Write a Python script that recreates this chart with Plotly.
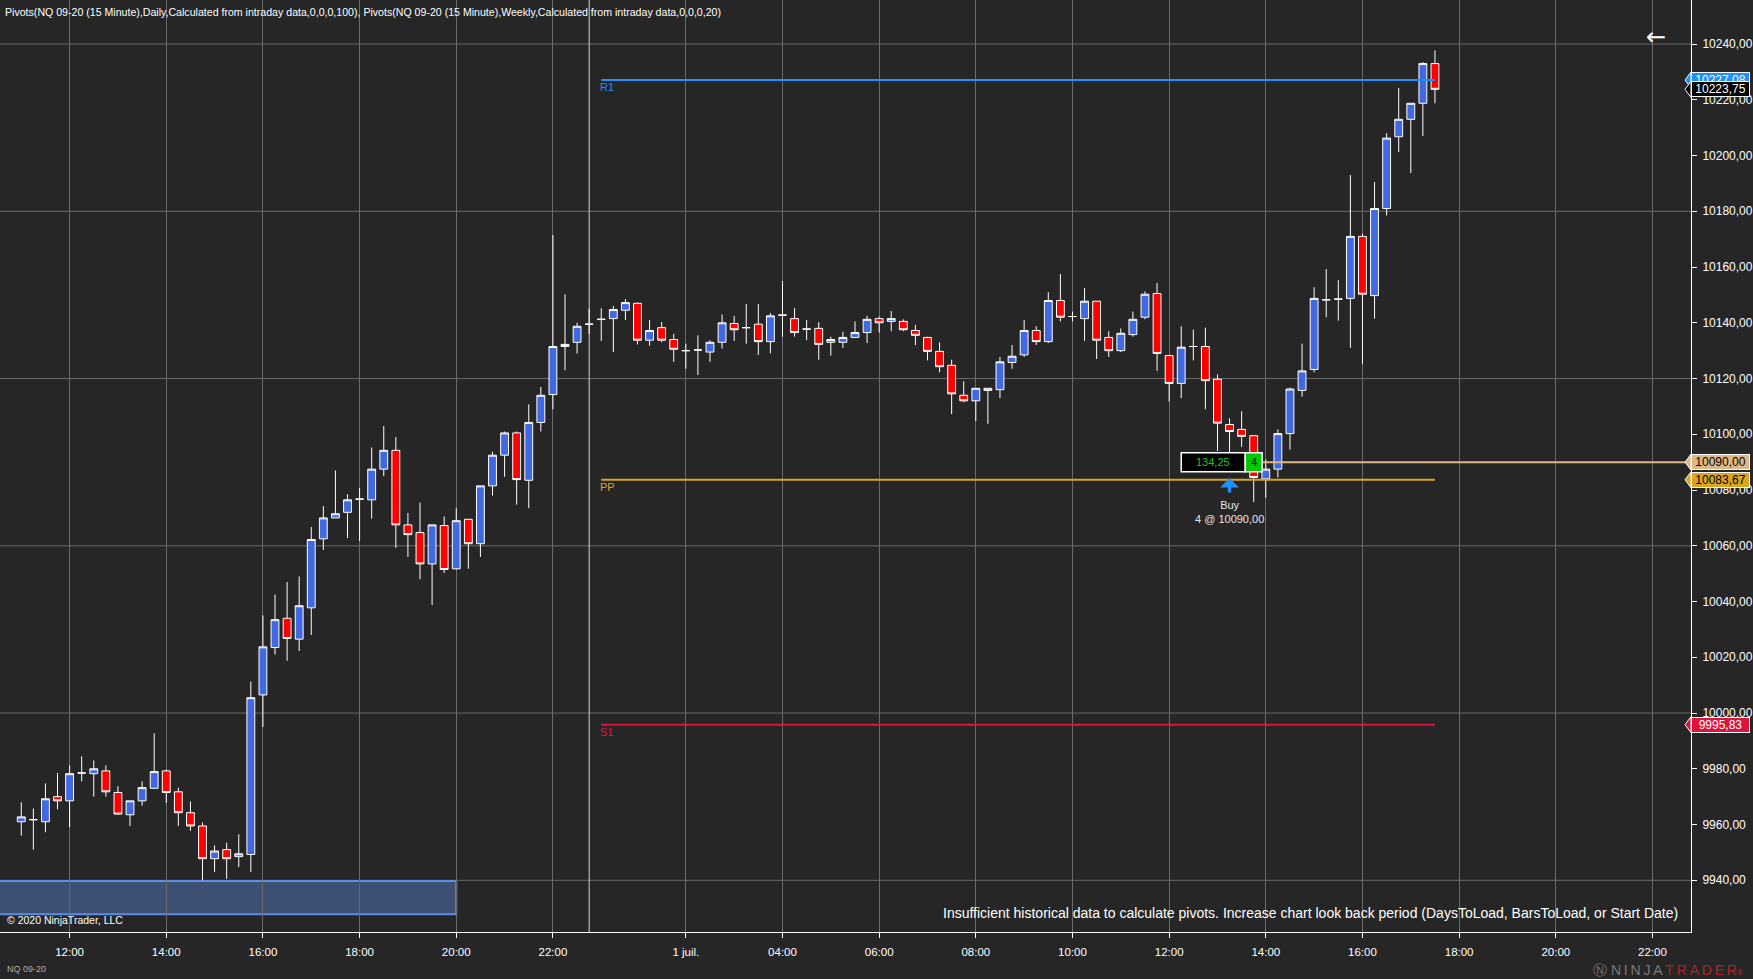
import plotly.graph_objects as go

# NQ 09-20, 15 minute bars, first bar 11:00 on 30 June
opens = [9961.0, 9961.75, 9961.0, 9970.0, 9968.5, 9978.5, 9978.25, 9979.25, 9971.5, 9963.5,
         9968.5, 9973.0, 9979.25, 9971.75, 9964.25, 9959.5, 9947.75, 9951.0, 9948.5, 9949.25,
         10006.5, 10023.5, 10034.0, 10026.5, 10037.75, 10062.5, 10070.0, 10072.0, 10076.75, 10076.5,
         10087.5, 10094.25, 10067.5, 10064.75, 10053.5, 10067.25, 10051.75, 10069.5, 10060.75, 10081.5,
         10092.5, 10100.5, 10083.5, 10104.25, 10114.25, 10131.5, 10133.0, 10139.5, 10141.25, 10141.5,
         10144.5, 10147.0, 10133.75, 10138.25, 10134.0, 10130.0, 10130.25, 10129.5, 10133.0, 10139.75,
         10138.25, 10139.5, 10133.25, 10142.75, 10141.5, 10137.75, 10138.0, 10133.0, 10133.0, 10134.75,
         10136.5, 10141.5, 10140.5, 10140.5, 10137.25, 10134.75, 10129.75, 10124.75, 10114.0, 10112.0,
         10115.75, 10116.0, 10125.75, 10128.5, 10137.25, 10133.25, 10148.0, 10142.25, 10141.5, 10147.75,
         10134.75, 10130.0, 10135.75, 10142.0, 10150.5, 10128.25, 10118.25, 10131.5, 10131.5, 10119.75,
         10103.5, 10101.75, 10099.5, 10084.0, 10087.5, 10100.25, 10115.75, 10123.25, 10148.25, 10148.5,
         10148.75, 10171.0, 10149.75, 10181.0, 10206.75, 10213.0, 10218.75, 10233.0]
highs = [9968.0, 9965.75, 9974.75, 9978.5, 9981.25, 9984.5, 9983.0, 9981.25, 9973.75, 9968.5,
         9975.5, 9992.75, 9979.75, 9973.25, 9968.25, 9960.75, 9952.5, 9953.5, 9956.5, 10011.25,
         10035.0, 10042.5, 10047.0, 10049.0, 10066.75, 10074.25, 10087.0, 10078.5, 10080.75, 10095.25,
         10103.0, 10099.0, 10071.75, 10075.5, 10067.5, 10070.5, 10073.5, 10069.5, 10081.5, 10093.75,
         10101.0, 10101.0, 10110.75, 10117.0, 10171.5, 10150.25, 10140.0, 10145.0, 10145.25, 10146.0,
         10148.5, 10147.25, 10141.0, 10140.25, 10136.0, 10132.5, 10135.5, 10133.75, 10143.0, 10142.5,
         10146.75, 10146.75, 10143.5, 10155.0, 10145.25, 10141.0, 10140.25, 10135.0, 10136.75, 10140.5,
         10142.5, 10142.25, 10144.25, 10141.25, 10139.25, 10135.0, 10133.0, 10126.75, 10119.0, 10116.5,
         10116.5, 10127.75, 10132.0, 10141.0, 10138.75, 10151.0, 10157.5, 10144.0, 10152.5, 10147.75,
         10137.0, 10138.0, 10144.0, 10151.25, 10154.25, 10128.5, 10138.75, 10137.5, 10138.25, 10121.5,
         10105.75, 10108.25, 10099.5, 10091.0, 10101.75, 10116.75, 10132.5, 10152.75, 10159.25, 10155.25,
         10193.0, 10172.0, 10190.5, 10208.0, 10224.25, 10218.75, 10233.5, 10237.75]
lows = [9956.0, 9951.0, 9957.25, 9965.5, 9959.0, 9975.5, 9970.0, 9970.0, 9963.5, 9959.5,
        9966.75, 9972.75, 9967.75, 9959.5, 9957.75, 9940.0, 9943.0, 9940.5, 9944.75, 9943.0,
        9995.0, 10021.0, 10018.75, 10022.25, 10028.0, 10058.5, 10070.0, 10062.75, 10061.75, 10069.75,
        10085.0, 10059.25, 10056.0, 10048.0, 10038.75, 10050.25, 10051.5, 10051.75, 10056.0, 10078.0,
        10084.75, 10074.75, 10073.5, 10101.0, 10109.0, 10123.0, 10129.0, 10136.0, 10133.5, 10129.5,
        10141.0, 10132.25, 10131.75, 10133.0, 10126.0, 10123.5, 10121.25, 10126.0, 10130.75, 10133.5,
        10132.5, 10128.5, 10129.0, 10135.0, 10135.0, 10133.75, 10126.75, 10128.25, 10131.0, 10134.5,
        10132.75, 10136.5, 10137.0, 10137.0, 10132.0, 10126.5, 10122.25, 10107.25, 10111.5, 10104.75,
        10103.75, 10113.0, 10123.5, 10127.75, 10132.0, 10132.75, 10140.5, 10140.5, 10133.5, 10127.0,
        10127.75, 10129.5, 10135.0, 10141.25, 10122.75, 10111.75, 10113.0, 10126.5, 10109.0, 10094.0,
        10089.0, 10095.5, 10075.75, 10077.25, 10084.5, 10094.5, 10113.5, 10122.25, 10142.0, 10140.75,
        10131.0, 10125.25, 10141.5, 10178.5, 10201.25, 10193.75, 10207.0, 10218.75]
closes = [9962.75, 9961.75, 9969.25, 9968.5, 9978.25, 9978.5, 9980.0, 9971.75, 9963.75, 9968.5,
          9973.25, 9979.0, 9971.5, 9964.25, 9959.5, 9947.75, 9950.5, 9947.75, 9949.5, 10005.5,
          10023.75, 10033.5, 10026.75, 10038.5, 10062.25, 10070.0, 10071.5, 10076.5, 10076.75, 10087.5,
          10094.25, 10067.5, 10064.0, 10053.5, 10067.5, 10051.5, 10069.0, 10060.75, 10081.5, 10092.5,
          10100.5, 10083.75, 10104.25, 10114.0, 10131.5, 10132.25, 10138.75, 10139.5, 10141.25, 10144.75,
          10147.25, 10133.75, 10137.25, 10133.75, 10130.5, 10130.0, 10130.25, 10133.0, 10140.0, 10137.5,
          10138.25, 10133.25, 10142.5, 10142.75, 10136.5, 10137.75, 10132.25, 10134.0, 10134.75, 10136.5,
          10141.25, 10140.0, 10141.5, 10137.5, 10135.5, 10129.75, 10124.25, 10114.5, 10112.0, 10116.5,
          10116.5, 10126.0, 10128.0, 10137.25, 10133.25, 10148.0, 10142.0, 10142.25, 10147.75, 10133.75,
          10130.0, 10136.25, 10141.25, 10150.25, 10129.0, 10118.25, 10131.25, 10131.5, 10119.25, 10104.0,
          10101.0, 10099.25, 10084.5, 10087.5, 10100.25, 10116.25, 10122.75, 10148.75, 10148.25, 10148.5,
          10171.0, 10150.25, 10181.0, 10206.25, 10213.0, 10218.75, 10233.0, 10223.75]

tick_bars = [4, 12, 20, 28, 36, 44, 55, 63, 71, 79, 87, 95, 103, 111, 119, 127, 135]
tick_labels = ["12:00", "14:00", "16:00", "18:00", "20:00", "22:00", "1 juil.", "04:00", "06:00",
               "08:00", "10:00", "12:00", "14:00", "16:00", "18:00", "20:00", "22:00"]

pivot_names = ["R1", "PP", "S1"]
pivot_values = [10227.08, 10083.67, 9995.83]
pivot_colors = ["#1E90FF", "#DAA520", "#DC143C"]
pivot_start = 48

grid_levels = [9940, 10000, 10060, 10120, 10180, 10240]
session_break = 47

entry_bar = 100
entry_price = 10090.00
entry_qty = 4
pnl_text = "134,25"

BG = "#262626"
GRID = "#6a6a6a"
FONT = "Liberation Sans, Arial, sans-serif"
W, H = 1753, 979
M = dict(l=0, r=60, t=0, b=47)
X_RANGE = [-1.76, 138.19]
Y_RANGE = [9921.45, 10255.8]
pt_px = (H - M["t"] - M["b"]) / (Y_RANGE[1] - Y_RANGE[0])   # pixels per point


def fmt(v):
    return f"{v:.2f}".replace(".", ",")


bars = list(range(len(opens)))
last = bars[-1]

fig = go.Figure()
fig.add_trace(go.Candlestick(
    x=bars, open=opens, high=highs, low=lows, close=closes,
    increasing=dict(fillcolor="#4169E1", line=dict(color="white", width=1)),
    decreasing=dict(fillcolor="#FF0000", line=dict(color="white", width=1)),
    whiskerwidth=0, hoverinfo="skip", showlegend=False))

shapes = []
annotations = []

# horizontal grid every 60 points, session break line
for g in grid_levels:
    shapes.append(dict(type="line", xref="paper", yref="y", x0=0, x1=1, y0=g, y1=g,
                       line=dict(color=GRID, width=1), layer="below"))
shapes.append(dict(type="line", xref="x", yref="paper", x0=session_break, x1=session_break,
                   y0=0, y1=1, line=dict(color="#d4d4d4", width=1), layer="below"))

# drawing rectangle bottom left
shapes.append(dict(type="rect", xref="x", yref="y", x0=X_RANGE[0] - 0.3, x1=36,
                   y0=9927.8, y1=9939.75, fillcolor="#3e5074",
                   line=dict(color="#5b8ee6", width=2), layer="below"))

# pivots
for name, v, c in zip(pivot_names, pivot_values, pivot_colors):
    fig.add_trace(go.Scatter(x=[pivot_start, last], y=[v, v], mode="lines",
                             line=dict(color=c, width=2), hoverinfo="skip", showlegend=False))
    annotations.append(dict(x=pivot_start - 0.3, y=v, xref="x", yref="y", text=name,
                            showarrow=False, xanchor="left", yanchor="middle", yshift=-7,
                            font=dict(color=c, size=11)))

# position line and pnl box
box_x = [96.0, 101.3, 102.7]
bh = 9.5 / pt_px
shapes.append(dict(type="line", xref="x", yref="y", x0=box_x[2], x1=X_RANGE[1],
                   y0=entry_price, y1=entry_price, line=dict(color="#DEB887", width=2)))
shapes.append(dict(type="rect", xref="x", yref="y", x0=box_x[0], x1=box_x[1],
                   y0=entry_price - bh, y1=entry_price + bh, fillcolor="black",
                   line=dict(color="white", width=1.5)))
shapes.append(dict(type="rect", xref="x", yref="y", x0=box_x[1], x1=box_x[2],
                   y0=entry_price - bh, y1=entry_price + bh, fillcolor="#00c800",
                   line=dict(color="white", width=1.5)))

# execution marker
annotations.append(dict(x=entry_bar, y=10084.3, xref="x", yref="y", text="", showarrow=True,
                        ax=0, ay=16, arrowhead=1, arrowsize=0.9, arrowwidth=3.5,
                        arrowcolor="#1E90FF", standoff=0))
annotations.append(dict(x=entry_bar, y=10077.4, xref="x", yref="y",
                        text=f"Buy<br>{entry_qty} @ {fmt(entry_price)}", showarrow=False,
                        xanchor="center", yanchor="top", font=dict(color="#e6e6e6", size=11)))

# right side price markers
markers = [(pivot_values[0], pivot_colors[0], "white"),
           (closes[-1], "black", "white"),
           (entry_price, "#DEB887", "black"),
           (pivot_values[1], "#DAA520", "black"),
           (pivot_values[2], "#DC143C", "white")]
tip = 1 - 6 / (W - M["l"] - M["r"])
mh = 8 / pt_px
for v, bg, fg in markers:
    shapes.append(dict(type="path", xref="paper", yref="y",
                       path=f"M {tip},{v} L 1,{v + mh} L 1,{v - mh} Z",
                       fillcolor=bg, line=dict(color="white", width=1), layer="above"))
    annotations.append(dict(x=1, y=v, xref="paper", yref="y", text=fmt(v), showarrow=False,
                            xanchor="left", yanchor="middle", width=57, height=14,
                            bgcolor=bg, bordercolor="white", borderwidth=1, borderpad=0,
                            font=dict(color=fg, size=12)))

annotations += [
    dict(x=(box_x[0] + box_x[1]) / 2, y=entry_price, xref="x", yref="y", text=pnl_text,
         showarrow=False, font=dict(color="#22c022", size=11)),
    dict(x=(box_x[1] + box_x[2]) / 2, y=entry_price, xref="x", yref="y", text=str(entry_qty),
         showarrow=False, font=dict(color="black", size=11)),
    dict(x=0.0018, y=0.9874, xref="paper", yref="paper", xanchor="left", yanchor="middle",
         showarrow=False, font=dict(size=10.6, color="white"),
         text="Pivots(NQ 09-20 (15 Minute),Daily,Calculated from intraday data,0,0,0,100), "
              "Pivots(NQ 09-20 (15 Minute),Weekly,Calculated from intraday data,0,0,0,20)"),
    dict(x=0.9864, y=0.978, xref="paper", yref="paper", text="←", showarrow=False,
         font=dict(size=24, color="white", family="DejaVu Sans")),
    dict(x=0.9932, y=0.0208, xref="paper", yref="paper", xanchor="right", yanchor="middle",
         showarrow=False, font=dict(size=14, color="white"),
         text="Insufficient historical data to calculate pivots. Increase chart look back period "
              "(DaysToLoad, BarsToLoad, or Start Date)"),
    dict(x=0.003, y=0.0133, xref="paper", yref="paper", xanchor="left", yanchor="middle",
         showarrow=False, font=dict(size=10.5, color="white"), text="© 2020 NinjaTrader, LLC"),
    dict(x=0.003, y=-0.040, xref="paper", yref="paper", xanchor="left", yanchor="middle",
         showarrow=False, font=dict(size=9, color="#b0b0b0"), text="NQ 09-20"),
    dict(x=1.0319, y=-0.041, xref="paper", yref="paper", xanchor="right", yanchor="middle",
         showarrow=False, font=dict(size=14),
         text="<span style='color:#7a7a7a'>\u24c3 N\u2009I\u2009N\u2009J\u2009A\u2009</span>"
              "<span style='color:#a8262b'>T\u2009R\u2009A\u2009D\u2009E\u2009R</span>"
              "<span style='color:#a8262b;font-size:8px'>®</span>"),
]

fig.update_layout(
    width=W, height=H, margin=M,
    paper_bgcolor=BG, plot_bgcolor=BG,
    font=dict(family=FONT, color="white", size=11),
    showlegend=False, boxgap=0.35, boxgroupgap=0, separators=",.",
    shapes=shapes, annotations=annotations,
    xaxis=dict(range=X_RANGE, tickmode="array", tickvals=tick_bars, ticktext=tick_labels,
               showgrid=True, gridcolor=GRID, gridwidth=1, zeroline=False,
               showline=True, linecolor="white", linewidth=1,
               ticks="outside", ticklen=5, tickcolor="white", ticklabelstandoff=4,
               tickfont=dict(size=11.5, color="white"), rangeslider=dict(visible=False)),
    yaxis=dict(range=Y_RANGE, side="right", tick0=0, dtick=20, tickformat=".2f",
               showgrid=False, zeroline=False, showline=True, linecolor="white", linewidth=1,
               ticks="outside", ticklen=5, tickcolor="white", ticklabelstandoff=3,
               tickfont=dict(size=12, color="white")),
)

fig.write_html("out.html", config={"displayModeBar": False},
               post_script="document.body.style.margin='0';")
